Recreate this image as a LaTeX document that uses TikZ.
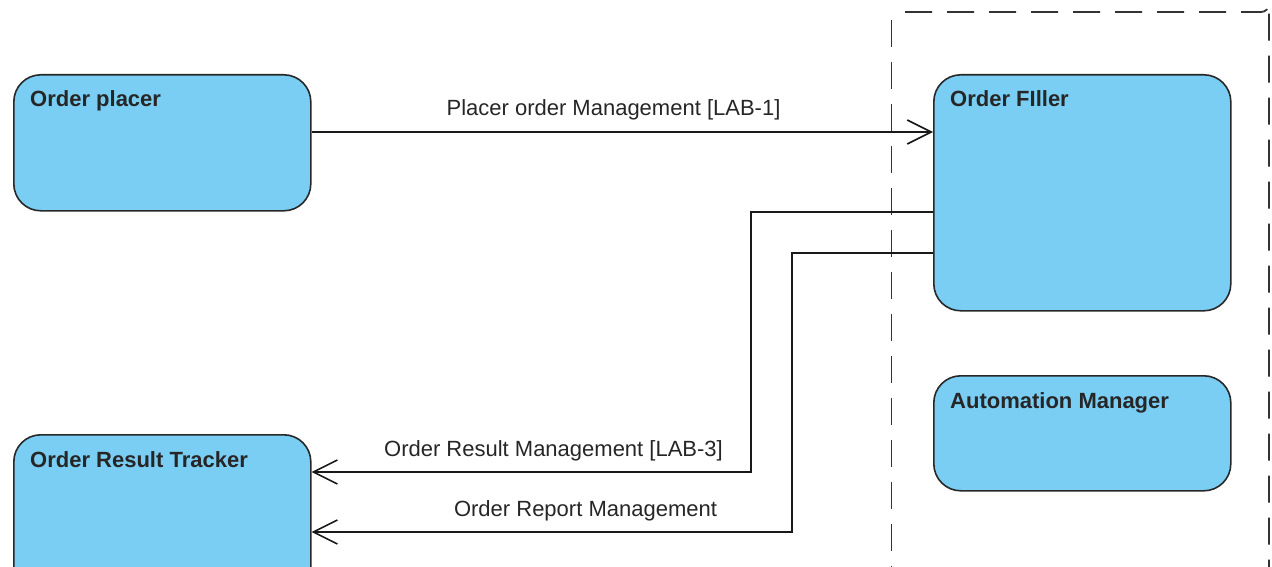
\documentclass[tikz,border=0pt]{standalone}
\usepackage{fontspec}
\setmainfont{Liberation Sans}
\usetikzlibrary{arrows.meta,calc}
\definecolor{boxblue}{RGB}{122,206,244}
\definecolor{edge}{RGB}{40,40,40}
\begin{document}
\begin{tikzpicture}[x=1pt,y=-1pt,
  compbox/.style={draw=edge,fill=boxblue,line width=1.6pt,rounded corners=27pt,
    minimum width=297pt,inner sep=0pt,anchor=north west},
  title/.style={font=\fontsize{22}{26}\selectfont\bfseries,text=black!85,anchor=base west,inner sep=0pt},
  lbl/.style={font=\fontsize{22}{26}\selectfont,text=black!85,anchor=base,inner sep=0pt},
  conn/.style={draw=black!90,line width=1.6pt},
  arr/.style={conn,-{Straight Barb[length=24pt,width=24pt,line width=1.6pt]}},
  bframe/.style={draw=black!80,line width=1.8pt,dash pattern=on 27pt off 15pt}]
\clip (0,0) rectangle (1272,567);
\useasboundingbox (0,0) rectangle (1272,567);
% boundary frame
\draw[bframe] (891.5,20) -- (891.5,620);
\draw[bframe] (905,12) -- (1261,12) arc[start angle=90,end angle=0,radius=8] -- (1269,620);
% components
\node[compbox,minimum height=136pt] (placer) at (13,74) {};
\node[compbox,minimum height=236pt] (filler) at (933,74) {};
\node[compbox,minimum height=115pt] (auto) at (933,375) {};
\node[compbox,minimum height=170pt] (tracker) at (13,434) {};
\node[title] (tplacer) at ($(placer.north west)+(17,33)$) {Order placer};
\node[title] (tfiller) at ($(filler.north west)+(17,33)$) {Order FIller};
\node[title] (tauto) at ($(auto.north west)+(17,33)$) {Automation Manager};
\node[title] (ttracker) at ($(tracker.north west)+(17,33)$) {Order Result Tracker};
% connector bend points
\coordinate (a1) at (933,212);
\coordinate (b1) at (751,212);
\coordinate (c1) at (751,472);
\coordinate (a2) at (933,253);
\coordinate (b2) at (792,253);
\coordinate (c2) at (792,532);
% connectors
\draw[arr] (placer.east |- 0,132) -- (filler.west |- 0,132);
\draw[arr] (filler.west |- a1) -- (b1) -- (c1) -- (tracker.east |- c1);
\draw[arr] (filler.west |- a2) -- (b2) -- (c2) -- (tracker.east |- c2);
% labels
\node[lbl] (l1) at (613.5,115.5) {Placer order Management [LAB-1]};
\node[lbl] (l2) at (553.5,456.5) {Order Result Management [LAB-3]};
\node[lbl] (l3) at (585.5,516) {Order Report Management};
\end{tikzpicture}
\end{document}
